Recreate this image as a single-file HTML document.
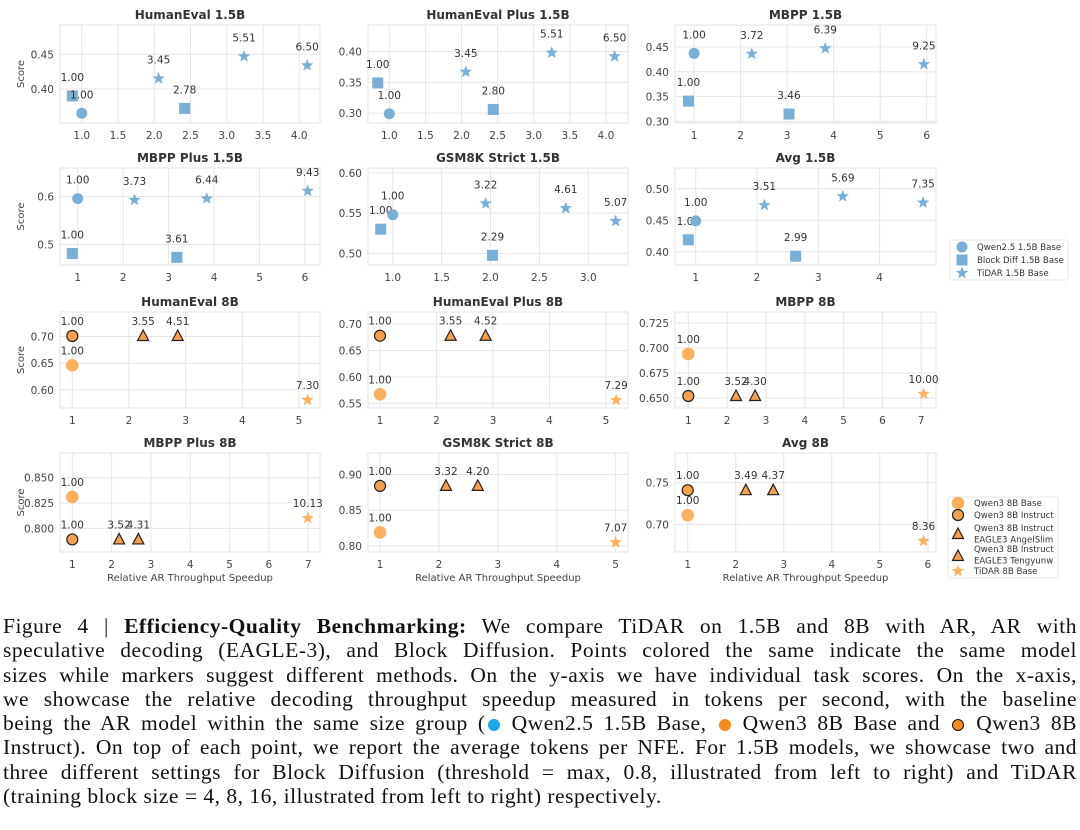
<!DOCTYPE html>
<html><head><meta charset="utf-8">
<style>
body{margin:0;background:#fff;width:1080px;height:830px;overflow:hidden;position:relative}
#chart{position:absolute;left:0;top:0}
#caption{position:absolute;left:3px;top:614px;width:1074px;font-family:"Liberation Serif",serif;font-size:21.5px;letter-spacing:0.5px;color:#111;line-height:24.3px}
#caption .ln{text-align:justify;text-align-last:justify;white-space:nowrap;height:24.3px}
#caption .last{text-align-last:left}
.dot{display:inline-block;width:12px;height:12px;border-radius:50%;vertical-align:-1px;margin:0 2px}
</style></head><body>
<svg id="chart" width="1080" height="600" xmlns="http://www.w3.org/2000/svg"></svg>
<div id="caption">
<div class="ln">Figure 4 | <b>Efficiency-Quality Benchmarking:</b> We compare TiDAR on 1.5B and 8B with AR, AR with</div>
<div class="ln">speculative decoding (EAGLE-3), and Block Diffusion. Points colored the same indicate the same model</div>
<div class="ln">sizes while markers suggest different methods. On the y-axis we have individual task scores. On the x-axis,</div>
<div class="ln">we showcase the relative decoding throughput speedup measured in tokens per second, with the baseline</div>
<div class="ln">being the AR model within the same size group (<span class="dot" style="background:#1aa7ec"></span> Qwen2.5 1.5B Base, <span class="dot" style="background:#f68a1e"></span> Qwen3 8B Base and <span class="dot" style="background:#f68a1e;border:1.5px solid #111;width:10px;height:10px"></span> Qwen3 8B</div>
<div class="ln">Instruct). On top of each point, we report the average tokens per NFE. For 1.5B models, we showcase two and</div>
<div class="ln">three different settings for Block Diffusion (threshold = max, 0.8, illustrated from left to right) and TiDAR</div>
<div class="ln last">(training block size = 4, 8, 16, illustrated from left to right) respectively.</div>
</div>
<script>
// ---- data (series: q=Qwen2.5 base, bd=Block Diff, t15=TiDAR 1.5B, qb=Qwen3 base, qi=Qwen3 instruct, e=EAGLE3, t8=TiDAR 8B)
const he15_s=['bd','q','t15','bd','t15','t15'];
const he15_x=[0.87,1.0,2.06,2.42,3.24,4.11];
const he15_y=[0.390,0.365,0.415,0.372,0.447,0.434];
const he15_n=['1.00','1.00','3.45','2.78','5.51','6.50'];
const he15_xt=['1.0','1.5','2.0','2.5','3.0','3.5','4.0'];
const he15_yt=['0.40','0.45'];

const hep15_s=['bd','q','t15','bd','t15','t15'];
const hep15_x=[0.84,1.0,2.06,2.44,3.25,4.12];
const hep15_y=[0.349,0.299,0.367,0.306,0.398,0.392];
const hep15_n=['1.00','1.00','3.45','2.80','5.51','6.50'];
const hep15_xt=['1.0','1.5','2.0','2.5','3.0','3.5','4.0'];
const hep15_yt=['0.30','0.35','0.40'];

const mb15_s=['q','bd','t15','bd','t15','t15'];
const mb15_x=[1.0,0.88,2.24,3.04,3.82,5.94];
const mb15_y=[0.437,0.341,0.436,0.315,0.447,0.415];
const mb15_n=['1.00','1.00','3.72','3.46','6.39','9.25'];
const mb15_xt=['1','2','3','4','5','6'];
const mb15_yt=['0.30','0.35','0.40','0.45'];

const mbp15_s=['q','bd','t15','bd','t15','t15'];
const mbp15_x=[1.0,0.88,2.25,3.18,3.84,6.06];
const mbp15_y=[0.596,0.481,0.593,0.473,0.596,0.612];
const mbp15_n=['1.00','1.00','3.73','3.61','6.44','9.43'];
const mbp15_xt=['1','2','3','4','5','6'];
const mbp15_yt=['0.5','0.6'];

const gs15_s=['bd','q','t15','bd','t15','t15'];
const gs15_x=[0.877,1.0,1.95,2.02,2.77,3.28];
const gs15_y=[0.530,0.548,0.562,0.4975,0.556,0.540];
const gs15_n=['1.00','1.00','3.22','2.29','4.61','5.07'];
const gs15_xt=['1.0','1.5','2.0','2.5','3.0'];
const gs15_yt=['0.50','0.55','0.60'];

const av15_s=['bd','q','t15','bd','t15','t15'];
const av15_x=[0.88,1.0,2.12,2.63,3.40,4.71];
const av15_y=[0.419,0.449,0.474,0.393,0.488,0.478];
const av15_n=['1.00','1.00','3.51','2.99','5.69','7.35'];
const av15_xt=['1','2','3','4'];
const av15_yt=['0.40','0.45','0.50'];

const he8_s=['qb','qi','e','e','t8'];
const he8_x=[1,1,2.25,2.86,5.15];
const he8_y=[0.646,0.701,0.701,0.701,0.581];
const he8_n=['1.00','1.00','3.55','4.51','7.30'];
const he8_xt=['1','2','3','4','5'];
const he8_yt=['0.60','0.65','0.70'];

const hep8_s=['qb','qi','e','e','t8'];
const hep8_x=[1,1,2.25,2.87,5.18];
const hep8_y=[0.567,0.678,0.678,0.678,0.556];
const hep8_n=['1.00','1.00','3.55','4.52','7.29'];
const hep8_xt=['1','2','3','4','5'];
const hep8_yt=['0.55','0.60','0.65','0.70'];

const mb8_s=['qb','qi','e','e','t8'];
const mb8_x=[1,1,2.23,2.72,7.06];
const mb8_y=[0.694,0.652,0.652,0.652,0.654];
const mb8_n=['1.00','1.00','3.52','4.30','10.00'];
const mb8_xt=['1','2','3','4','5','6','7'];
const mb8_yt=['0.650','0.675','0.700','0.725'];

const mbp8_s=['qb','qi','e','e','t8'];
const mbp8_x=[1,1,2.19,2.68,6.99];
const mbp8_y=[0.831,0.789,0.789,0.789,0.810];
const mbp8_n=['1.00','1.00','3.52','4.31','10.13'];
const mbp8_xt=['1','2','3','4','5','6','7'];
const mbp8_yt=['0.800','0.825','0.850'];

const gs8_s=['qb','qi','e','e','t8'];
const gs8_x=[1,1,2.12,2.66,5.0];
const gs8_y=[0.819,0.884,0.884,0.884,0.805];
const gs8_n=['1.00','1.00','3.32','4.20','7.07'];
const gs8_xt=['1','2','3','4','5'];
const gs8_yt=['0.80','0.85','0.90'];

const av8_s=['qb','qi','e','e','t8'];
const av8_x=[1,1,2.21,2.78,5.91];
const av8_y=[0.711,0.741,0.741,0.741,0.680];
const av8_n=['1.00','1.00','3.49','4.37','8.36'];
const av8_xt=['1','2','3','4','5','6'];
const av8_yt=['0.70','0.75'];

const panels=[
 {t:'HumanEval 1.5B',s:he15_s,x:he15_x,y:he15_y,n:he15_n,xt:he15_xt,yt:he15_yt,L:60,T:25,R:320,B:123,xd:[0.70,4.287],yd:[0.351,0.4922],yl:1},
 {t:'HumanEval Plus 1.5B',s:hep15_s,x:hep15_x,y:hep15_y,n:hep15_n,xt:hep15_xt,yt:hep15_yt,L:368,T:25,R:628,B:123,xd:[0.705,4.306],yd:[0.284,0.443]},
 {t:'MBPP 1.5B',s:mb15_s,x:mb15_x,y:mb15_y,n:mb15_n,xt:mb15_xt,yt:mb15_yt,L:675,T:25,R:936,B:123,xd:[0.59,6.20],yd:[0.297,0.494]},
 {t:'MBPP Plus 1.5B',s:mbp15_s,x:mbp15_x,y:mbp15_y,n:mbp15_n,xt:mbp15_xt,yt:mbp15_yt,L:60,T:168,R:320,B:265,xd:[0.61,6.33],yd:[0.457,0.660],yl:1},
 {t:'GSM8K Strict 1.5B',s:gs15_s,x:gs15_x,y:gs15_y,n:gs15_n,xt:gs15_xt,yt:gs15_yt,L:368,T:168,R:628,B:265,xd:[0.747,3.406],yd:[0.4855,0.606]},
 {t:'Avg 1.5B',s:av15_s,x:av15_x,y:av15_y,n:av15_n,xt:av15_xt,yt:av15_yt,L:675,T:168,R:936,B:265,xd:[0.662,4.92],yd:[0.379,0.533]},
 {t:'HumanEval 8B',s:he8_s,x:he8_x,y:he8_y,n:he8_n,xt:he8_xt,yt:he8_yt,L:60,T:312,R:320,B:408,xd:[0.783,5.37],yd:[0.566,0.746],yl:1},
 {t:'HumanEval Plus 8B',s:hep8_s,x:hep8_x,y:hep8_y,n:hep8_n,xt:hep8_xt,yt:hep8_yt,L:368,T:312,R:628,B:408,xd:[0.788,5.39],yd:[0.541,0.723]},
 {t:'MBPP 8B',s:mb8_s,x:mb8_x,y:mb8_y,n:mb8_n,xt:mb8_xt,yt:mb8_yt,L:675,T:312,R:936,B:408,xd:[0.657,7.38],yd:[0.640,0.736]},
 {t:'MBPP Plus 8B',s:mbp8_s,x:mbp8_x,y:mbp8_y,n:mbp8_n,xt:mbp8_xt,yt:mbp8_yt,L:60,T:453,R:320,B:552,xd:[0.687,7.30],yd:[0.7766,0.8744],yl:1,xl:1},
 {t:'GSM8K Strict 8B',s:gs8_s,x:gs8_x,y:gs8_y,n:gs8_n,xt:gs8_xt,yt:gs8_yt,L:368,T:453,R:628,B:552,xd:[0.796,5.21],yd:[0.7916,0.930],xl:1},
 {t:'Avg 8B',s:av8_s,x:av8_x,y:av8_y,n:av8_n,xt:av8_xt,yt:av8_yt,L:675,T:453,R:936,B:552,xd:[0.735,6.17],yd:[0.6668,0.7856],xl:1}
];
const BLUE='#7aafd5',OR='#fdb05e',ORD='#f5a04e';
const svg=document.getElementById('chart');
const NS='http://www.w3.org/2000/svg';
function mk(tag,attrs,parent){const e=document.createElementNS(NS,tag);for(const k in attrs)e.setAttribute(k,attrs[k]);(parent||svg).appendChild(e);return e;}
function txt(s,attrs,parent){const e=mk('text',attrs,parent);e.textContent=s;return e;}
function star(cx,cy,r){let p=[];for(let i=0;i<10;i++){const a=-Math.PI/2+i*Math.PI/5;const rr=i%2?r*0.42:r;p.push((cx+rr*Math.cos(a)).toFixed(1)+','+(cy+rr*Math.sin(a)).toFixed(1));}return p.join(' ');}
function marker(type,cx,cy,g){
 let e;
 if(type==='q'){e=mk('circle',{cx:cx,cy:cy,r:5.5,fill:BLUE},g);}
 else if(type==='bd'){e=mk('rect',{x:cx-5.5,y:cy-5.5,width:11,height:11,fill:BLUE},g);}
 else if(type==='t15'){e=mk('polygon',{points:star(cx,cy,6.5),fill:BLUE},g);}
 else if(type==='qb'){e=mk('circle',{cx:cx,cy:cy,r:6.3,fill:OR},g);}
 else if(type==='qi'){e=mk('circle',{cx:cx,cy:cy,r:5.5,fill:ORD,stroke:'#222','stroke-width':1.2},g);}
 else if(type==='e'){e=mk('polygon',{points:`${cx},${cy-6} ${cx-5.5},${cy+4.5} ${cx+5.5},${cy+4.5}`,fill:ORD,stroke:'#222','stroke-width':1.2,'stroke-linejoin':'miter'},g);}
 else {e=mk('polygon',{points:star(cx,cy,6.5),fill:OR},g);}
 return e;
}
const F='DejaVu Sans, Liberation Sans, sans-serif';
panels.forEach((p,pi)=>{
 const g=mk('g',{});
 
 
 const sx=v=>p.L+(v-p.xd[0])/(p.xd[1]-p.xd[0])*(p.R-p.L);
 const sy=v=>p.B-(v-p.yd[0])/(p.yd[1]-p.yd[0])*(p.B-p.T);
 mk('rect',{x:p.L,y:p.T,width:p.R-p.L,height:p.B-p.T,fill:'#fff',stroke:'#e3e3e3','stroke-width':1},g);
 p.xt.forEach(t=>{const X=sx(parseFloat(t));
  const gl=mk('line',{x1:X,x2:X,y1:p.T,y2:p.B,stroke:'#e6e6e6','stroke-width':1},g);
  
  const tl=txt(t,{x:X,y:p.B+16,'text-anchor':'middle','font-family':F,'font-size':10.5,fill:'#444'},g);
  });
 p.yt.forEach(t=>{const Y=sy(parseFloat(t));
  const gl=mk('line',{x1:p.L,x2:p.R,y1:Y,y2:Y,stroke:'#e6e6e6','stroke-width':1},g);
  
  const tl=txt(t,{x:p.L-6,y:Y+4,'text-anchor':'end','font-family':F,'font-size':10.5,fill:'#444'},g);
  });
 const ti=txt(p.t,{x:(p.L+p.R)/2,y:p.T-6,'text-anchor':'middle','font-family':F,'font-size':12,'font-weight':'bold',fill:'#333'},g);
 
 if(p.yl){const yl=txt('Score',{x:0,y:0,transform:`translate(${p.L-36},${(p.T+p.B)/2}) rotate(-90)`,'text-anchor':'middle','font-family':F,'font-size':10,fill:'#444'},g);
  }
 if(p.xl){const xl=txt('Relative AR Throughput Speedup',{x:(p.L+p.R)/2,y:p.B+29,'text-anchor':'middle','font-family':F,'font-size':10,fill:'#444'},g);
  }
 p.s.forEach((s,i)=>{
  const X=sx(p.x[i]),Y=sy(p.y[i]);
  const m=marker(s,X,Y,g);
  
  
  const off=(s==='q'||s==='bd'||s==='t15')?15:11;
  const lb=txt(p.n[i],{x:X,y:Y-off,'text-anchor':'middle','font-family':F,'font-size':10.5,fill:'#333'},g);
  
  
 });
});
// legends
function legend(x,y,w,h,items,name){
 const g=mk('g',{});
 
 mk('rect',{x:x,y:y,width:w,height:h,fill:'#fff',stroke:'#ddd','stroke-width':0.8,rx:2},g);
 items.forEach(it=>{
  const m=marker(it.s,it.mx,it.my,g);
  
  it.lines.forEach((l,j)=>{const t=txt(l,{x:it.tx,y:it.ty+j*11.5,'font-family':F,'font-size':8.6,fill:'#333'},g);
   });
 });
}
legend(950,240,118,40,[
 {s:'q',mx:962,my:247,tx:977,ty:250,lines:['Qwen2.5 1.5B Base']},
 {s:'bd',mx:962,my:260,tx:977,ty:263,lines:['Block Diff 1.5B Base']},
 {s:'t15',mx:962,my:273,tx:977,ty:276,lines:['TiDAR 1.5B Base']}],'legend-1-5b');
legend(948,497,110,81,[
 {s:'qb',mx:958,my:503,tx:974,ty:506,lines:['Qwen3 8B Base']},
 {s:'qi',mx:958,my:515,tx:974,ty:518,lines:['Qwen3 8B Instruct']},
 {s:'e',mx:958,my:534,tx:974,ty:531,lines:['Qwen3 8B Instruct','EAGLE3 AngelSlim']},
 {s:'e',mx:958,my:556,tx:974,ty:552,lines:['Qwen3 8B Instruct','EAGLE3 Tengyunw']},
 {s:'t8',mx:958,my:571,tx:974,ty:574,lines:['TiDAR 8B Base']}],'legend-8b');
</script>
</body></html>
